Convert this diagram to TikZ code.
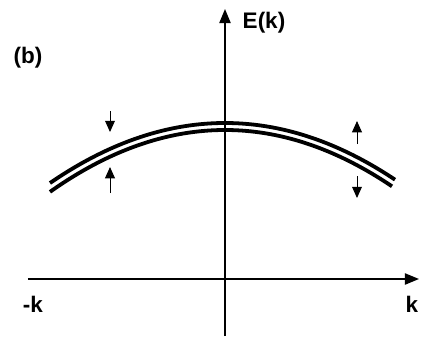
\documentclass[tikz,border=0pt]{standalone}
\usepackage{fontspec}
\setmainfont{Liberation Sans}
\usetikzlibrary{arrows.meta}
\begin{document}
\begin{tikzpicture}[x=0.025cm,y=-0.025cm,
    axis/.style={line width=1pt,-{Triangle[length=10pt,width=8pt]}},
    band/.style={line width=2.7pt},
    spin/.style={line width=0.7pt,-{Triangle[length=8pt,width=7pt]}},
    lbl/.style={font=\fontsize{16}{19}\selectfont\bfseries,inner sep=0pt}]
    \useasboundingbox (0,0) rectangle (424,337);

    % Trục tọa độ: gốc O, trục k nằm ngang, trục E(k) thẳng đứng
    \coordinate (O) at (225,279);
    \coordinate (kmin) at (28,279);
    \coordinate (kmax) at (419,279);
    \coordinate (Ebot) at (225,336);
    \coordinate (Etop) at (225,9);
    \draw[axis] (kmin) -- (kmax);
    \draw[axis] (Ebot) -- (Etop);

    % Hai dải năng lượng gần nhau (parabol úp xuống)
    \draw[band, domain=50:395, samples=100] plot (\x, {123+19.6*((\x-225)/100)^2});
    \draw[band, domain=50:392, samples=100] plot (\x, {130+20.2*((\x-225)/100)^2});

    % Mũi tên spin bên trái
    \coordinate (L1) at (110,111);
    \coordinate (L2) at (110,132);
    \coordinate (L3) at (110,193);
    \coordinate (L4) at (110,167);
    \draw[spin] (L1) -- (L2);
    \draw[spin] (L3) -- (L4);

    % Mũi tên spin bên phải
    \coordinate (R1) at (357,144);
    \coordinate (R2) at (357,121);
    \coordinate (R3) at (357,176);
    \coordinate (R4) at (357,198);
    \draw[spin] (R1) -- (R2);
    \draw[spin] (R3) -- (R4);

    % Nhãn
    \node[lbl] (Ek) at (264,23) {E(k)};
    \node[lbl] (b) at (28,58) {(b)};
    \node[lbl] (mk) at (33,304) {-k};
    \node[lbl] (k) at (412,304) {k};

\end{tikzpicture}
\end{document}
